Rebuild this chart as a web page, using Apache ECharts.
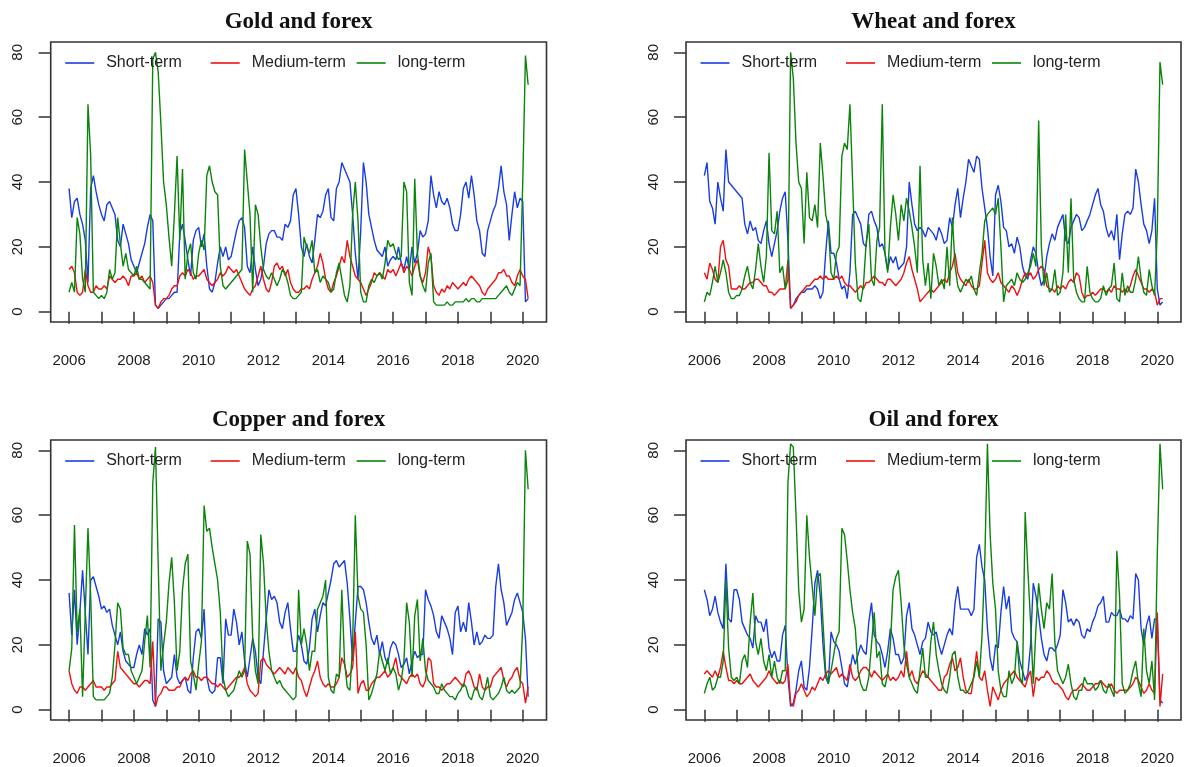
<!DOCTYPE html>
<html>
<head>
<meta charset="utf-8">
<script src="https://cdn.jsdelivr.net/npm/echarts@6/dist/echarts.min.js"></script>
<style>
  html, body { margin: 0; padding: 0; background: #ffffff; }
  #chart { width: 1184px; height: 767px; }
</style>
</head>
<body>
<div id="chart"></div>
<script>
// Monthly spillover indices, January 2006 to March 2020
const startYear = 2006;
const panelTitles = ['Gold and forex', 'Wheat and forex', 'Copper and forex', 'Oil and forex'];
const seriesNames = ['Short-term', 'Medium-term', 'long-term'];
const seriesColors = ['#1a3de0', '#ee1111', '#0a840a'];
const yearTicks = [2006, 2007, 2008, 2009, 2010, 2011, 2012, 2013, 2014, 2015, 2016, 2017, 2018, 2019, 2020];
const yearLabels = [2006, 2008, 2010, 2012, 2014, 2016, 2018, 2020];
const valueTicks = [0, 20, 40, 60, 80];

const goldShort = [
  38, 29, 34, 35, 30, 27, 22, 9, 38, 42, 37, 33,
  30, 28, 33, 34, 32, 30, 22, 20, 27, 24, 21, 16,
  14, 12, 15, 18, 21, 26, 30, 28, 2, 1, 2, 3,
  4, 4, 5, 6, 6, 24, 27, 22, 16, 11, 22, 25,
  26, 20, 24, 14, 7, 6, 9, 15, 20, 17, 20, 16,
  17, 21, 25, 28, 29, 26, 14, 12, 20, 13, 8, 10,
  14, 21, 24, 25, 25, 23, 23, 22, 27, 26, 28, 36,
  38, 30, 20, 17, 21, 17, 15, 22, 30, 29, 31, 36,
  38, 29, 28, 38, 40, 46, 44, 42, 40, 30, 18, 10,
  25, 46, 40, 30, 26, 22, 19, 18, 17, 20, 14, 16,
  17, 16, 20, 15, 13, 17, 13, 20, 15, 18, 25, 23,
  24, 28, 42, 36, 32, 37, 34, 33, 35, 32, 27, 25,
  25, 30, 38, 40, 35, 42, 36, 28, 25, 18, 17, 25,
  28, 31, 33, 38, 45, 37, 33, 22, 30, 37, 32, 35,
  34, 3, 4
];
const goldMedium = [
  13, 14, 12, 6, 5, 6, 13, 8, 6, 6, 8, 7,
  7, 8, 7, 11, 10, 9, 10, 10, 11, 10, 8, 11,
  11, 12, 10, 11, 9, 10, 11, 9, 2, 1, 3, 4,
  4, 5, 7, 8, 8, 11, 12, 11, 13, 12, 10, 11,
  11, 12, 13, 10, 9, 8, 9, 10, 12, 11, 12, 14,
  13, 12, 13, 11, 9, 7, 6, 5, 7, 8, 11, 14,
  10, 7, 6, 9, 14, 15, 13, 14, 11, 13, 9, 7,
  6, 6, 7, 7, 8, 7, 10, 12, 14, 18, 15, 10,
  7, 6, 9, 11, 14, 17, 15, 22, 17, 14, 11, 10,
  9, 7, 5, 7, 9, 12, 11, 12, 11, 10, 13, 12,
  13, 11, 13, 15, 12, 14, 13, 11, 14, 16, 11, 9,
  12, 20, 17, 8, 6, 5, 7, 6, 8, 7, 9, 8,
  7, 8, 9, 8, 10, 11, 10, 9, 8, 6, 5, 7,
  8, 9, 10, 12, 12, 13, 11, 11, 9, 8, 11, 13,
  11, 10, 4
];
const goldLong = [
  6, 9, 6, 29, 24, 10, 6, 64, 48, 6, 5, 4,
  5, 4, 6, 13, 10, 12, 29, 21, 14, 18, 13, 12,
  11, 14, 10, 10, 9, 8, 7, 78, 80, 74, 58, 40,
  33, 23, 14, 30, 48, 22, 44, 10, 18, 21, 12, 10,
  18, 22, 19, 42, 45, 40, 37, 36, 14, 8, 7, 8,
  9, 10, 11, 12, 13, 50, 40, 30, 6, 33, 30, 20,
  13, 11, 10, 12, 10, 8, 10, 13, 12, 9, 5, 4,
  4, 5, 6, 23, 20, 18, 22, 12, 13, 9, 11, 10,
  9, 6, 7, 12, 15, 10, 5, 3, 8, 30, 40, 28,
  6, 3, 3, 8, 10, 9, 11, 12, 10, 15, 22, 20,
  21, 18, 16, 17, 40, 37, 9, 5, 41, 18, 11, 8,
  6, 15, 18, 3, 2, 2, 2, 2, 3, 2, 2, 3,
  3, 3, 3, 4, 3, 4, 4, 3, 3, 4, 4, 4,
  4, 4, 4, 5, 6, 7, 8, 6, 5, 7, 9, 8,
  40, 79, 70
];

const wheatShort = [
  42, 46, 34, 32, 27, 40, 35, 31, 50, 40, 39, 38,
  37, 36, 35, 27, 24, 28, 25, 26, 22, 21, 25, 28,
  21, 17, 21, 25, 31, 35, 37, 22, 1, 2, 4, 5,
  6, 6, 7, 7, 7, 8, 7, 4, 6, 18, 28, 18,
  18, 15, 10, 7, 8, 4, 12, 30, 31, 29, 27, 21,
  20, 30, 31, 28, 26, 20, 21, 18, 13, 17, 15, 17,
  13, 14, 15, 20, 40, 33, 27, 25, 26, 25, 23, 26,
  25, 24, 22, 26, 24, 21, 22, 29, 26, 33, 38, 29,
  35, 40, 47, 45, 43, 48, 47, 38, 32, 26, 17, 11,
  36, 39, 34, 26, 25, 20, 21, 18, 23, 20, 14, 11,
  10, 16, 20, 18, 12, 8, 10, 17, 21, 24, 22, 26,
  28, 30, 22, 21, 26, 28, 30, 29, 25, 26, 28, 30,
  33, 36, 38, 33, 31, 26, 23, 25, 22, 30, 16, 24,
  30, 31, 30, 32, 44, 40, 33, 27, 25, 21, 25, 35,
  7, 2, 3
];
const wheatMedium = [
  12, 10, 15, 13, 10, 9, 20, 22, 16, 14, 7, 7,
  7, 8, 7, 7, 8, 9, 9, 10, 10, 9, 8, 8,
  6, 6, 5, 6, 7, 7, 7, 16, 1, 2, 3, 5,
  6, 7, 8, 8, 9, 10, 10, 11, 10, 11, 10, 10,
  10, 11, 10, 11, 9, 8, 8, 7, 6, 7, 8, 7,
  9, 9, 10, 11, 10, 9, 9, 8, 10, 10, 9, 8,
  9, 10, 12, 15, 17, 13, 10, 7, 3, 4, 5, 6,
  7, 6, 7, 8, 9, 10, 9, 12, 14, 18, 12, 10,
  9, 8, 10, 8, 7, 7, 8, 15, 22, 12, 10, 9,
  10, 12, 9, 8, 7, 6, 8, 7, 5, 7, 10, 12,
  11, 12, 10, 11, 13, 14, 13, 8, 7, 7, 6, 8,
  7, 8, 7, 9, 10, 9, 12, 11, 6, 4, 5, 5,
  6, 5, 6, 7, 7, 6, 7, 6, 8, 7, 7, 6,
  7, 6, 8, 11, 13, 11, 9, 7, 7, 6, 7, 6,
  2, 4, 4
];
const wheatLong = [
  3, 6, 5, 9, 14, 9, 12, 16, 12, 6, 4, 4,
  5, 5, 7, 11, 14, 9, 7, 13, 21, 14, 9, 17,
  49, 25, 24, 31, 12, 14, 7, 10, 80, 72, 52, 40,
  38, 21, 43, 29, 28, 33, 26, 52, 42, 30, 26, 12,
  10, 18, 20, 48, 52, 50, 64, 40, 15, 4, 3, 8,
  21, 27, 10, 8, 22, 26, 64, 18, 12, 26, 36, 30,
  22, 33, 28, 35, 31, 26, 20, 12, 45, 16, 8, 15,
  4, 18, 14, 8, 10, 7, 20, 8, 29, 14, 8, 6,
  8, 10, 9, 11, 7, 5, 12, 18, 28, 30, 31, 32,
  30, 35, 20, 3, 8, 9, 10, 8, 12, 10, 9, 10,
  12, 14, 18, 14, 59, 20, 8, 12, 6, 7, 13, 5,
  6, 12, 30, 12, 35, 10, 6, 4, 3, 3, 14, 6,
  4, 3, 3, 4, 8, 5, 7, 8, 15, 4, 3, 12,
  5, 8, 6, 6, 10, 17, 10, 6, 5, 13, 8, 5,
  25, 77, 70
];

const copperShort = [
  36, 23, 37, 20, 30, 43, 30, 17, 40, 41, 38, 35,
  31, 32, 30, 31, 26, 23, 20, 24, 18, 15, 14, 13,
  13, 17, 20, 17, 25, 23, 25, 3, 1, 28, 27, 12,
  8, 9, 10, 17, 10, 8, 9, 10, 6, 5, 16, 24,
  25, 22, 31, 10, 6, 5, 6, 16, 16, 8, 28, 23,
  23, 31, 27, 20, 24, 15, 10, 16, 22, 18, 10, 8,
  18, 28, 37, 34, 35, 33, 27, 25, 30, 33, 25, 18,
  18, 23, 20, 15, 14, 19, 28, 31, 24, 29, 33, 32,
  36, 40, 45, 46, 44, 45, 46, 39, 28, 15, 27, 38,
  38, 37, 33, 27, 22, 20, 23, 17, 21, 16, 14, 19,
  21, 20, 17, 13, 14, 16, 11, 15, 18, 16, 17, 17,
  37, 34, 32, 29, 24, 22, 29, 27, 25, 22, 17, 30,
  32, 24, 27, 24, 33, 27, 20, 24, 20, 21, 23, 22,
  22, 23, 38, 45, 37, 33, 26, 28, 30, 34, 36, 33,
  30, 22, 4
];
const copperMedium = [
  12, 8, 6, 5, 7, 7, 6, 7, 8, 9, 7, 7,
  7, 6, 7, 7, 8, 9, 18, 13, 12, 11, 10, 9,
  8, 8, 7, 8, 9, 9, 8, 21, 1, 4, 5, 7,
  7, 6, 6, 6, 7, 7, 9, 10, 9, 11, 12, 10,
  10, 9, 10, 10, 9, 8, 8, 7, 8, 7, 6, 7,
  8, 9, 10, 10, 11, 13, 8, 6, 5, 4, 5, 15,
  16, 14, 13, 12, 11, 12, 13, 12, 11, 13, 12, 11,
  13, 10, 9, 6, 4, 7, 10, 12, 15, 10, 8, 7,
  8, 7, 7, 8, 10, 16, 14, 10, 11, 13, 24, 5,
  8, 9, 6, 6, 8, 9, 10, 10, 11, 12, 10, 11,
  13, 16, 11, 10, 9, 8, 10, 11, 10, 11, 8, 7,
  9, 16, 15, 8, 7, 7, 6, 7, 8, 8, 9, 10,
  9, 8, 7, 11, 12, 10, 7, 6, 11, 7, 6, 7,
  7, 10, 11, 12, 13, 9, 7, 9, 10, 12, 13, 9,
  8, 2, 7
];
const copperLong = [
  12, 19, 57, 24, 31, 4, 30, 56, 35, 4, 3, 3,
  3, 3, 4, 5, 10, 20, 33, 31, 19, 17, 17, 12,
  10, 8, 10, 12, 21, 29, 13, 70, 81, 45, 12, 20,
  27, 39, 47, 33, 12, 18, 37, 45, 48, 15, 11, 6,
  14, 21, 63, 55, 56, 50, 45, 40, 30, 10, 6, 4,
  5, 6, 9, 12, 10, 12, 52, 48, 22, 12, 8, 54,
  45, 28, 18, 12, 10, 8, 9, 7, 6, 5, 4, 3,
  4, 37, 20, 25, 20, 12, 18, 18, 31, 33, 35, 40,
  10, 6, 5, 11, 10, 37, 15, 7, 6, 20, 60, 35,
  31, 30, 20, 3, 5, 8, 11, 18, 15, 12, 16, 11,
  13, 11, 6, 9, 15, 33, 27, 10, 29, 34, 15, 22,
  12, 9, 8, 7, 5, 5, 8, 6, 5, 4, 4, 3,
  5, 6, 8, 7, 4, 3, 6, 7, 4, 3, 6, 10,
  4, 3, 4, 5, 7, 10, 6, 5, 6, 5, 6, 7,
  26, 80, 68
];

const oilShort = [
  37, 34, 29, 31, 35, 30, 27, 25, 45, 28, 27, 37,
  37, 34, 27, 25, 23, 22, 19, 29, 27, 27, 24, 28,
  19, 16, 18, 15, 15, 23, 26, 10, 1, 2, 6, 12,
  15, 7, 6, 13, 25, 39, 43, 35, 20, 10, 8, 24,
  21, 20, 18, 13, 8, 7, 12, 17, 14, 17, 20, 18,
  17, 27, 33, 23, 21, 20, 17, 13, 18, 25, 22, 17,
  17, 14, 16, 29, 33, 25, 23, 20, 17, 21, 22, 27,
  24, 23, 24, 20, 17, 20, 23, 25, 23, 33, 38, 31,
  31, 31, 31, 29, 31, 47, 51, 44, 40, 25, 16, 12,
  20, 19, 30, 38, 31, 35, 24, 22, 21, 15, 12, 9,
  11, 20, 39, 35, 29, 22, 17, 15, 19, 19, 18, 20,
  23, 37, 33, 27, 28, 26, 28, 27, 23, 22, 25, 24,
  27, 29, 32, 33, 35, 27, 27, 30, 29, 29, 31, 28,
  28, 27, 29, 28, 42, 40, 25, 20, 26, 29, 22, 28,
  28, 3, 2
];
const oilMedium = [
  11, 12, 11, 10, 12, 10, 13, 18, 13, 9, 9, 8,
  9, 8, 8, 9, 10, 11, 9, 8, 7, 8, 9, 10,
  12, 10, 9, 8, 9, 8, 9, 14, 2, 1, 5, 6,
  8, 6, 4, 5, 7, 6, 8, 10, 9, 11, 12, 11,
  12, 13, 10, 11, 10, 9, 14, 10, 9, 10, 12, 13,
  13, 12, 10, 12, 11, 10, 9, 10, 11, 9, 10, 9,
  10, 12, 10, 18, 10, 12, 9, 8, 10, 12, 11, 10,
  9, 8, 7, 6, 6, 10, 11, 14, 16, 12, 13, 16,
  10, 6, 5, 5, 11, 18, 10, 9, 12, 6, 1, 7,
  5, 3, 6, 8, 9, 10, 11, 12, 10, 9, 8, 7,
  10, 12, 4, 10, 9, 10, 10, 12, 11, 9, 8, 8,
  7, 6, 4, 3, 5, 6, 6, 7, 8, 7, 6, 6,
  7, 8, 8, 9, 8, 7, 7, 8, 6, 5, 6, 6,
  6, 6, 7, 8, 10, 9, 7, 5, 6, 8, 6, 5,
  30, 1, 11
];
const oilLong = [
  5, 8, 10, 6, 7, 10, 10, 15, 40, 19, 10, 9,
  10, 8, 15, 17, 13, 27, 36, 21, 17, 22, 15, 12,
  17, 10, 15, 10, 8, 12, 12, 70, 82, 81, 60, 37,
  27, 31, 60, 47, 38, 29, 41, 42, 27, 12, 8, 12,
  17, 22, 24, 56, 54, 46, 37, 30, 25, 12, 8, 6,
  6, 10, 20, 30, 16, 18, 8, 7, 11, 20, 37, 41,
  43, 33, 20, 14, 10, 8, 6, 5, 12, 19, 10, 10,
  21, 27, 17, 12, 8, 6, 5, 10, 17, 18, 10, 6,
  6, 5, 6, 8, 10, 15, 10, 23, 45, 82, 54, 39,
  31, 12, 6, 4, 4, 12, 8, 10, 21, 10, 8, 61,
  43, 27, 8, 25, 39, 31, 25, 33, 31, 42, 21, 12,
  10, 8, 10, 14, 8, 4, 3, 6, 6, 10, 8, 8,
  8, 6, 7, 9, 6, 5, 8, 6, 4, 49, 35, 8,
  5, 6, 8, 12, 15, 8, 4, 25, 12, 8, 15, 3,
  48, 82, 68
];

const panelSeries = [
  [goldShort, goldMedium, goldLong],
  [wheatShort, wheatMedium, wheatLong],
  [copperShort, copperMedium, copperLong],
  [oilShort, oilMedium, oilLong]
];

// Plot boxes, in pixels
const boxes = [
  { left: 50.7, top: 42, width: 495.8, height: 280 },
  { left: 686, top: 42, width: 495, height: 280 },
  { left: 50.7, top: 440, width: 495.8, height: 280 },
  { left: 686, top: 440, width: 495, height: 280 }
];

const inkColor = '#1c1c1c';
const frameColor = '#333333';
const sansFont = '"Liberation Sans", Arial, sans-serif';

function toPairs(values) {
  return values.map((v, i) => [startYear + i / 12, v]);
}

const grids = [], xAxes = [], yAxes = [], series = [], titles = [], legends = [];
const legendOffsets = [14.5, 160, 306];

boxes.forEach((b, p) => {
  grids.push({
    left: b.left, top: b.top, width: b.width, height: b.height,
    show: true, borderColor: frameColor, borderWidth: 1.6,
    backgroundColor: 'transparent', containLabel: false
  });
  xAxes.push({
    type: 'value', gridIndex: p, min: 2005.433, max: 2020.733,
    axisLine: { show: false },
    splitLine: { show: false },
    axisTick: { show: true, customValues: yearTicks, length: 12, inside: false,
                lineStyle: { color: frameColor, width: 1.5 } },
    axisLabel: { show: true, customValues: yearLabels, margin: 31,
                 fontFamily: sansFont, fontSize: 15, color: inkColor,
                 formatter: v => String(v) }
  });
  yAxes.push({
    type: 'value', gridIndex: p, min: -3.2, max: 83.2,
    axisLine: { show: false },
    splitLine: { show: false },
    axisTick: { show: true, customValues: valueTicks, length: 12, inside: false,
                lineStyle: { color: frameColor, width: 1.5 } },
    axisLabel: { show: true, customValues: valueTicks, rotate: 90, margin: 25,
                 fontFamily: sansFont, fontSize: 15, color: inkColor,
                 formatter: v => String(v) }
  });
  titles.push({
    text: panelTitles[p],
    left: b.left + b.width / 2, top: b.top - 31, textAlign: 'center', padding: 0,
    textStyle: { fontFamily: '"Liberation Serif", "Times New Roman", serif',
                 fontWeight: 'bold', fontSize: 23, color: '#111' }
  });
  panelSeries[p].forEach((vals, s) => {
    series.push({
      name: seriesNames[s], type: 'line', xAxisIndex: p, yAxisIndex: p,
      data: toPairs(vals), showSymbol: false, symbol: 'none',
      lineStyle: { color: seriesColors[s], width: 1.4 },
      itemStyle: { color: seriesColors[s] },
      animation: false, silent: true
    });
  });
  seriesNames.forEach((name, s) => {
    legends.push({
      data: [name], left: b.left + legendOffsets[s], top: b.top + 13, padding: 0,
      icon: 'rect', itemWidth: 29, itemHeight: 1.6, selectedMode: false,
      textStyle: { fontFamily: sansFont, fontSize: 16, color: '#222', padding: [0, 0, 0, 7] }
    });
  });
});

const chart = echarts.init(document.getElementById('chart'), null, { renderer: 'canvas' });
chart.setOption({
  backgroundColor: '#ffffff',
  animation: false,
  title: titles,
  legend: legends,
  grid: grids,
  xAxis: xAxes,
  yAxis: yAxes,
  series: series
});
</script>
</body>
</html>
